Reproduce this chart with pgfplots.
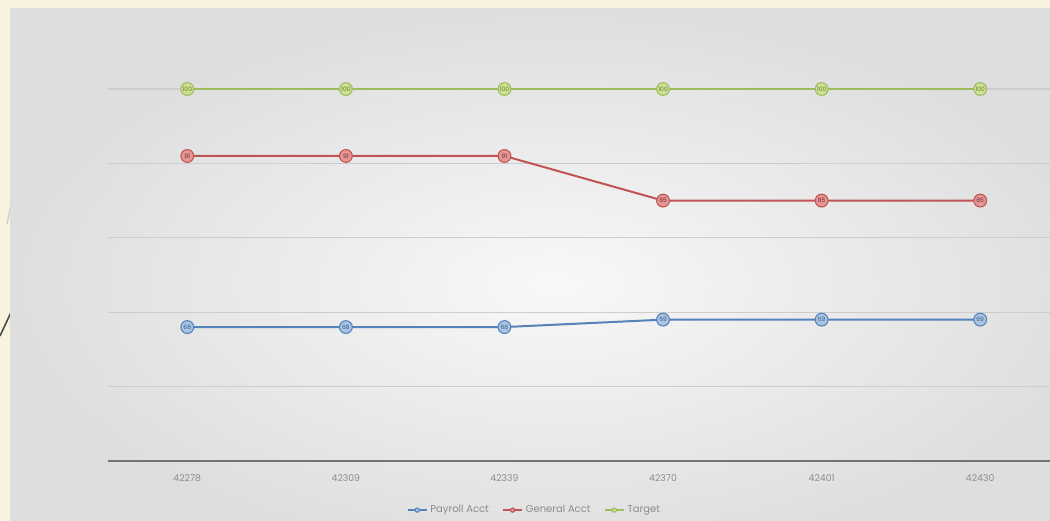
\documentclass[border=0pt]{standalone}
\usepackage{pgfplots}
\pgfplotsset{compat=1.18}
\usepackage{fontspec}
\setmainfont{Poppins}
\definecolor{cream}{RGB}{248,243,222}
\definecolor{panelout}{RGB}{222,222,222}
\definecolor{panelin}{RGB}{248,248,248}
\definecolor{sblue}{RGB}{84,130,186}
\definecolor{sred}{RGB}{192,84,82}
\definecolor{sgreen}{RGB}{158,188,92}
\definecolor{fblue}{RGB}{170,196,226}
\definecolor{fred}{RGB}{226,150,150}
\definecolor{fgreen}{RGB}{206,224,150}
\definecolor{dblue}{RGB}{50,90,140}
\definecolor{dred}{RGB}{130,40,40}
\definecolor{dgreen}{RGB}{100,130,40}
\definecolor{gridc}{RGB}{205,205,205}
\definecolor{txtc}{RGB}{140,140,140}

\pgfplotstableread{
x payroll general target
0 68 91 100
1 68 91 100
2 68 91 100
3 69 85 100
4 69 85 100
5 69 85 100
}\datatab

\begin{document}
\begin{tikzpicture}
\path[use as bounding box, clip] (0,0) rectangle (787.5pt,390.75pt);
\begin{scope}[x=0.75pt,y=-0.75pt,shift={(0,390.75pt)}]
  \fill[cream] (0,0) rectangle (1050,521);
  \draw[gray!40, line width=1pt] (14,190) -- (7,224);
  \draw[black!70, line width=1.2pt] (14,306) -- (0,336);
  \shade[inner color=panelin, outer color=panelout] (10,9) rectangle (1100,560);
\end{scope}
\begin{axis}[
  at={(81pt,45pt)}, anchor=south west,
  scale only axis,
  width=706.5pt, height=279pt,
  xmin=-0.5, xmax=5.44,
  ymin=50, ymax=100,
  axis x line*=bottom,
  axis y line*=left,
  y axis line style={draw=none},
  x axis line style={draw=black!55, line width=1.4pt},
  xtick={0,1,2,3,4,5},
  xticklabels={42278,42309,42339,42370,42401,42430},
  major tick length=0pt,
  ytick={60,70,80,90,100},
  yticklabels={},
  ymajorgrids=true,
  grid style={gridc, line width=0.8pt},
  tick label style={font=\fontsize{7}{8}\selectfont, text=txtc},
  /pgf/number format/assume math mode=true,
  xticklabel style={yshift=-7pt},
  clip=false,
  legend style={at={(0.453,-0.132)}, anchor=center, draw=none, fill=none,
    font=\fontsize{7.5}{8}\selectfont, text=txtc,
    /tikz/every even column/.append style={column sep=8pt}},
  legend columns=3,
  legend image code/.code={
    \draw[#1, mark size=1.6pt] (0cm,0cm) -- (0.5cm,0cm);
    \draw[#1, mark size=1.6pt] plot coordinates {(0.25cm,0cm)};
  },
  nodes near coords,
  every node near coord/.append style={anchor=center, font=\fontsize{4.5}{4.5}\selectfont},
]
\addplot[sblue, line width=1.5pt, mark=*, mark size=4.8pt,
  mark options={fill=fblue, draw=sblue, line width=0.8pt},
  every node near coord/.append style={text=dblue}]
  table[x=x, y=payroll] {\datatab};
\addlegendentry{Payroll Acct}
\addplot[sred, line width=1.5pt, mark=*, mark size=4.8pt,
  mark options={fill=fred, draw=sred, line width=0.8pt},
  every node near coord/.append style={text=dred}]
  table[x=x, y=general] {\datatab};
\addlegendentry{General Acct}
\addplot[sgreen, line width=1.5pt, mark=*, mark size=4.8pt,
  mark options={fill=fgreen, draw=sgreen, line width=0.8pt},
  every node near coord/.append style={text=dgreen}]
  table[x=x, y=target] {\datatab};
\addlegendentry{Target}
\end{axis}
\end{tikzpicture}
\end{document}
